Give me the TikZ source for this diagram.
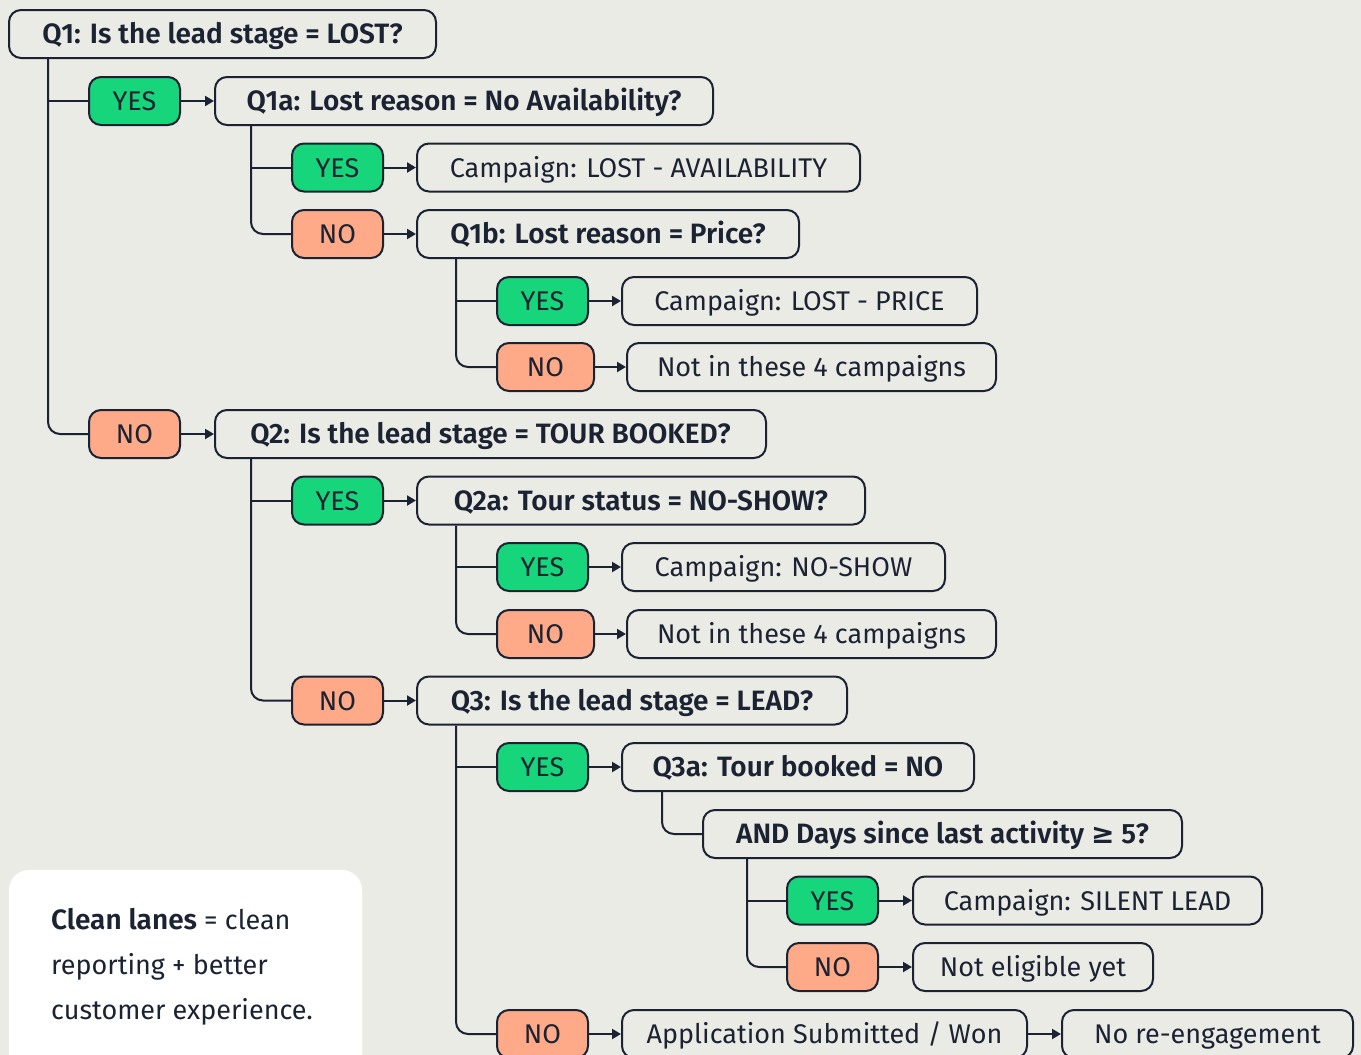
\documentclass[tikz,border=0pt]{standalone}
\usepackage{fontspec}
\setmainfont{Fira Sans}[BoldFont={* SemiBold}]
\newfontfamily\symfont{DejaVu Sans}
\usetikzlibrary{arrows.meta,calc}
\definecolor{bgc}{HTML}{EBEBE6}
\definecolor{ink}{HTML}{1B2333}
\definecolor{yesc}{HTML}{16D57A}
\definecolor{noc}{HTML}{FEA987}
\tikzset{
  box/.style={draw=ink, line width=2pt, rounded corners=12pt, minimum height=48pt, inner sep=0pt,
    text height=20pt, text depth=1pt, text=ink, font=\fontsize{27}{31}\selectfont},
  qbox/.style={box, font=\fontsize{28}{32}\selectfont\bfseries},
  yesbox/.style={box, fill=yesc},
  nobox/.style={box, fill=noc},
  conn/.style={draw=ink, line width=2pt, rounded corners=12pt},
  arr/.style={draw=ink, line width=2pt, -{Triangle[length=9pt,width=10pt]}},
  notetext/.style={anchor=base west, inner sep=0pt, text=ink, font=\fontsize{27}{31}\selectfont},
}
\begin{document}
\begin{tikzpicture}[x=1pt,y=-1pt]
\useasboundingbox[fill=bgc] (0,0) rectangle (1361,1055);
% note
\fill[white, rounded corners=20pt] (9,870) rectangle (362,1080);
\node[notetext] (note1) at (51,929) {{\fontsize{28}{32}\selectfont\bfseries Clean lanes} = clean};
\node[notetext] (note2) at (51,974) {reporting + better};
\node[notetext] (note3) at (51,1019) {customer experience.};
% nodes
\node[qbox, minimum width=427pt] (Q1) at (222.5,34) {Q1: Is the lead stage = LOST?};
\node[yesbox, minimum width=91pt] (Y1) at (134.5,101) {YES};
\node[qbox, minimum width=498pt] (Q1a) at (464,101) {Q1a: Lost reason = No Availability?};
\node[yesbox, minimum width=91pt] (Y11) at (337.5,167.5) {YES};
\node[box, minimum width=443pt] (C11) at (638.5,167.5) {Campaign: LOST - AVAILABILITY};
\node[nobox, minimum width=91pt] (N11) at (337.5,234) {NO};
\node[qbox, minimum width=382pt] (Q1b) at (608,234) {Q1b: Lost reason = Price?};
\node[yesbox, minimum width=91pt] (Y12) at (542.5,301) {YES};
\node[box, minimum width=355pt] (C12) at (799.5,301) {Campaign: LOST - PRICE};
\node[nobox, minimum width=97pt] (N12) at (545.5,367) {NO};
\node[box, minimum width=369pt] (C13) at (811.5,367) {Not in these 4 campaigns};
\node[nobox, minimum width=91pt] (N1) at (134.5,434) {NO};
\node[qbox, minimum width=551pt] (Q2) at (490.5,434) {Q2: Is the lead stage = TOUR BOOKED?};
\node[yesbox, minimum width=91pt] (Y21) at (337.5,500.5) {YES};
\node[qbox, minimum width=448pt] (Q2a) at (641,500.5) {Q2a: Tour status = NO-SHOW?};
\node[yesbox, minimum width=91pt] (Y22) at (542.5,567) {YES};
\node[box, minimum width=323pt] (C22) at (783.5,567) {Campaign: NO-SHOW};
\node[nobox, minimum width=97pt] (N22) at (545.5,634) {NO};
\node[box, minimum width=369pt] (C23) at (811.5,634) {Not in these 4 campaigns};
\node[nobox, minimum width=91pt] (N21) at (337.5,700.5) {NO};
\node[qbox, minimum width=430pt] (Q3) at (632,700.5) {Q3: Is the lead stage = LEAD?};
\node[yesbox, minimum width=91pt] (Y3) at (542.5,767) {YES};
\node[qbox, minimum width=352pt] (Q3a) at (798,767) {Q3a: Tour booked = NO};
\node[qbox, minimum width=479pt] (AND) at (942.5,834) {AND Days since last activity {\symfont ≥} 5?};
\node[yesbox, minimum width=91pt] (Y4) at (832.5,900.5) {YES};
\node[box, minimum width=349pt] (C4) at (1087.5,900.5) {Campaign: SILENT LEAD};
\node[nobox, minimum width=91pt] (N4) at (832.5,967) {NO};
\node[box, minimum width=240pt] (C5) at (1033,967) {Not eligible yet};
\node[nobox, minimum width=91pt] (N3) at (542.5,1034) {NO};
\node[box, minimum width=405pt] (C6) at (824.5,1034) {Application Submitted / Won};
\node[box, minimum width=291pt] (C7) at (1207.5,1034) {No re-engagement};
% trunks
\coordinate (t1) at ($(Q1.south west)+(40,0)$);
\coordinate (t1a) at ($(Q1a.south west)+(37,0)$);
\coordinate (t1b) at ($(Q1b.south west)+(40,0)$);
\coordinate (t2) at ($(Q2.south west)+(37,0)$);
\coordinate (t2a) at ($(Q2a.south west)+(40,0)$);
\coordinate (t3) at ($(Q3.south west)+(40,0)$);
\coordinate (t3a) at ($(Q3a.south west)+(41,0)$);
\coordinate (tand) at ($(AND.south west)+(45,0)$);
\draw[conn] (t1) |- (N1.west);   \draw[conn] (Y1.west) -- (Y1.west -| t1);
\draw[conn] (t1a) |- (N11.west); \draw[conn] (Y11.west) -- (Y11.west -| t1a);
\draw[conn] (t1b) |- (N12.west); \draw[conn] (Y12.west) -- (Y12.west -| t1b);
\draw[conn] (t2) |- (N21.west);  \draw[conn] (Y21.west) -- (Y21.west -| t2);
\draw[conn] (t2a) |- (N22.west); \draw[conn] (Y22.west) -- (Y22.west -| t2a);
\draw[conn] (t3) |- (N3.west);   \draw[conn] (Y3.west) -- (Y3.west -| t3);
\draw[conn] (t3a) |- (AND.west);
\draw[conn] (tand) |- (N4.west); \draw[conn] (Y4.west) -- (Y4.west -| tand);
% arrows
\draw[arr] (Y1.east) -- (Q1a.west);
\draw[arr] (Y11.east) -- (C11.west);
\draw[arr] (N11.east) -- (Q1b.west);
\draw[arr] (Y12.east) -- (C12.west);
\draw[arr] (N12.east) -- (C13.west);
\draw[arr] (N1.east) -- (Q2.west);
\draw[arr] (Y21.east) -- (Q2a.west);
\draw[arr] (Y22.east) -- (C22.west);
\draw[arr] (N22.east) -- (C23.west);
\draw[arr] (N21.east) -- (Q3.west);
\draw[arr] (Y3.east) -- (Q3a.west);
\draw[arr] (Y4.east) -- (C4.west);
\draw[arr] (N4.east) -- (C5.west);
\draw[arr] (N3.east) -- (C6.west);
\draw[arr] (C6.east) -- (C7.west);
\end{tikzpicture}
\end{document}
